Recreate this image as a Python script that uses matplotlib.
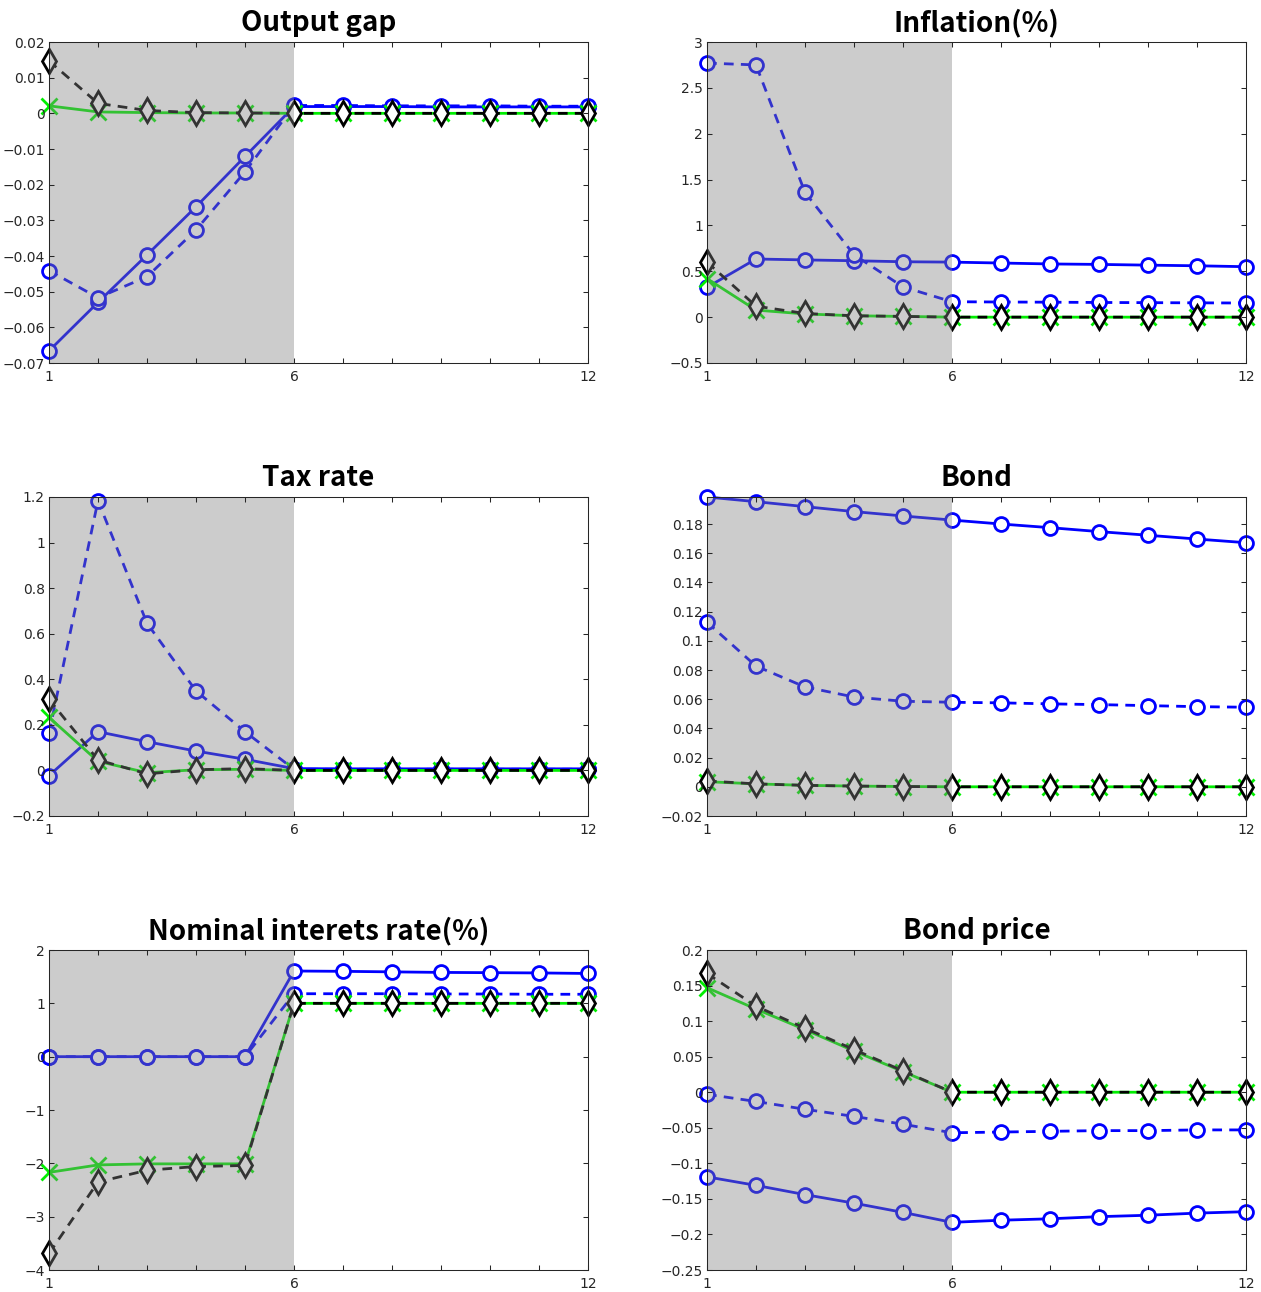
import matplotlib
matplotlib.use("Agg")
import matplotlib.pyplot as plt
from matplotlib.ticker import FuncFormatter
import numpy as np

# ── data ───────────────────────────────────────────────
periods = np.arange(1, 13)
shade_start, shade_end = 1, 6

titles = ["Output gap", "Inflation(%)", "Tax rate", "Bond",
          "Nominal interets rate(%)", "Bond price"]

# Output gap
gap_solid = [-0.0666, -0.0530, -0.0397, -0.0262, -0.0121, 0.0019,
             0.0019, 0.0019, 0.0018, 0.0018, 0.0018, 0.0018]
gap_dashed = [-0.0441, -0.0517, -0.0458, -0.0327, -0.0164, 0.0022,
              0.0022, 0.0021, 0.0021, 0.0021, 0.0020, 0.0020]
gap_green = [0.0021, 0.0004, 0.0002, 0.0001, 0.0001, 0,
             0, 0, 0, 0, 0, 0]
gap_black = [0.0147, 0.0028, 0.0008, 0.0002, 0.0001, 0,
             0, 0, 0, 0, 0, 0]

# Inflation
infl_solid = [0.325, 0.634, 0.624, 0.615, 0.604, 0.600,
              0.590, 0.580, 0.575, 0.567, 0.560, 0.550]
infl_dashed = [2.77, 2.75, 1.36, 0.68, 0.33, 0.168,
               0.165, 0.163, 0.160, 0.158, 0.156, 0.154]
infl_green = [0.42, 0.077, 0.035, 0.015, 0.008, 0,
              0, 0, 0, 0, 0, 0]
infl_black = [0.60, 0.12, 0.04, 0.015, 0.008, 0,
              0, 0, 0, 0, 0, 0]

# Tax rate
tax_solid = [-0.023, 0.170, 0.126, 0.085, 0.049, 0.008,
             0.007, 0.007, 0.007, 0.007, 0.007, 0.007]
tax_dashed = [0.163, 1.184, 0.646, 0.349, 0.170, 0.005,
              0.005, 0.005, 0.005, 0.005, 0.005, 0.005]
tax_green = [0.233, 0.040, -0.010, 0.003, 0.005, 0,
             0, 0, 0, 0, 0, 0]
tax_black = [0.312, 0.046, -0.015, 0.003, 0.008, 0,
             0, 0, 0, 0, 0, 0]

# Bond
bond_solid = [0.1985, 0.1953, 0.1919, 0.1885, 0.1855, 0.1827,
              0.1800, 0.1775, 0.1748, 0.1723, 0.1697, 0.1672]
bond_dashed = [0.1127, 0.0827, 0.0684, 0.0615, 0.0586, 0.0579,
               0.0575, 0.0568, 0.0563, 0.0556, 0.0549, 0.0545]
bond_green = [0.0035, 0.0020, 0.0010, 0.0005, 0.0002, 0,
              0, 0, 0, 0, 0, 0]
bond_black = [0.0040, 0.0020, 0.0010, 0.0005, 0.0002, 0,
              0, 0, 0, 0, 0, 0]

# Nominal interest rate
rate_solid = [0, 0, 0, 0, 0, 1.606,
              1.600, 1.590, 1.580, 1.575, 1.570, 1.560]
rate_dashed = [0, 0, 0, 0, 0, 1.18,
               1.18, 1.18, 1.175, 1.175, 1.17, 1.17]
rate_green = [-2.17, -2.03, -2.01, -2.01, -2.01, 1.0,
              1.0, 1.0, 1.0, 1.0, 1.0, 1.0]
rate_black = [-3.69, -2.35, -2.13, -2.06, -2.04, 1.0,
              1.0, 1.0, 1.0, 1.0, 1.0, 1.0]

# Bond price
price_solid = [-0.119, -0.131, -0.144, -0.156, -0.169, -0.183,
               -0.180, -0.178, -0.175, -0.173, -0.170, -0.168]
price_dashed = [-0.003, -0.013, -0.024, -0.034, -0.045, -0.057,
                -0.056, -0.055, -0.054, -0.054, -0.053, -0.053]
price_green = [0.147, 0.117, 0.088, 0.058, 0.029, 0,
               0, 0, 0, 0, 0, 0]
price_black = [0.167, 0.121, 0.090, 0.060, 0.030, 0,
               0, 0, 0, 0, 0, 0]

panel_series = [
    (gap_solid, gap_dashed, gap_green, gap_black),
    (infl_solid, infl_dashed, infl_green, infl_black),
    (tax_solid, tax_dashed, tax_green, tax_black),
    (bond_solid, bond_dashed, bond_green, bond_black),
    (rate_solid, rate_dashed, rate_green, rate_black),
    (price_solid, price_dashed, price_green, price_black),
]

y_limits = [(-0.07, 0.02), (-0.5, 3.0), (-0.2, 1.2),
            (-0.02, 0.1985), (-4, 2), (-0.25, 0.2)]
y_steps = [0.01, 0.5, 0.2, 0.02, 1, 0.05]

x_labels = ["1", "", "", "", "", "6", "", "", "", "", "", "12"]

# ── layout (pixels -> figure fractions) ───────────────────
W, H = 1261, 1292
col_left = [49, 707]
col_width = 539
row_top = [42, 497, 950]
row_height = [321, 319, 320]

AX_COLOR = (0.15, 0.15, 0.15)
TICK_FONT = ["Liberation Sans Narrow", "DejaVu Sans"]
TITLE_FONT = ["Noto Sans CJK JP", "DejaVu Sans"]
DASH = (3.5, 2.6)


def fmt_tick(v, pos):
    s = f"{round(v, 6) + 0.0:g}"
    return s.replace("-", "\u2212")


fig = plt.figure(figsize=(W / 100, H / 100), dpi=100)

for i, (title, series) in enumerate(zip(titles, panel_series)):
    r, c = divmod(i, 2)
    rect = [col_left[c] / W, 1 - (row_top[r] + row_height[r]) / H,
            col_width / W, row_height[r] / H]
    ax = fig.add_axes(rect)

    solid, dashed, green, black = series
    style = dict(lw=2, clip_on=False, zorder=2)
    ax.plot(periods, solid, "-", color="blue", marker="o", ms=10,
            mfc="white", mec="blue", mew=2, **style)
    ax.plot(periods, dashed, "--", color="blue", marker="o", ms=10,
            mfc="white", mec="blue", mew=2, dashes=DASH, **style)
    ax.plot(periods, green, "-", color="#00ee00", marker="x", ms=11,
            mew=2, **style)
    ax.plot(periods, black, "--", color="black", marker="d", ms=12,
            mfc="white", mec="black", mew=2, dashes=DASH, **style)

    # shaded window drawn over the lines as a translucent patch
    ax.axvspan(shade_start, shade_end, color="0.5", alpha=0.4, lw=0, zorder=3)

    ax.set_xlim(1, 12)
    ax.set_ylim(*y_limits[i])
    lo, hi = y_limits[i]
    step = y_steps[i]
    yt = np.arange(np.ceil(lo / step - 1e-9), np.floor(hi / step + 1e-9) + 1) * step
    ax.set_yticks(yt)
    ax.yaxis.set_major_formatter(FuncFormatter(fmt_tick))
    ax.set_xticks(periods)
    ax.set_xticklabels(x_labels)

    ax.tick_params(direction="in", top=True, right=True, length=3.5,
                   width=0.75, color=AX_COLOR, labelcolor=AX_COLOR,
                   labelsize=10)
    ax.tick_params(axis="x", pad=5)
    ax.tick_params(axis="y", pad=3)
    for lab in ax.get_xticklabels() + ax.get_yticklabels():
        lab.set_family(TICK_FONT)

    for sp in ax.spines.values():
        sp.set_color(AX_COLOR)
        sp.set_linewidth(0.75)
        sp.set_zorder(4)
    ax.xaxis.set_zorder(4)
    ax.yaxis.set_zorder(4)

    ax.set_title(title, fontsize=20, fontweight="bold", family=TITLE_FONT,
                 pad=8)

fig.savefig("out.png", dpi=100)
plt.close(fig)
